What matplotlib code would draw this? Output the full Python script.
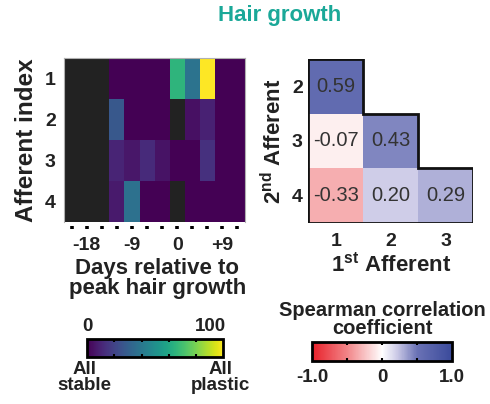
import numpy as np
import matplotlib
matplotlib.use('Agg')
import matplotlib.pyplot as plt
from matplotlib.colors import LinearSegmentedColormap, Normalize
from matplotlib import cm
from matplotlib.patches import Polygon

plt.rcParams['font.family'] = ['Liberation Sans', 'DejaVu Sans']
plt.rcParams['mathtext.fontset'] = 'custom'
plt.rcParams['mathtext.rm'] = 'Liberation Sans'
plt.rcParams['mathtext.bf'] = 'Liberation Sans:bold'

# percent of plastic cells, per afferent, per 3-day bin
days = [-21, -18, -15, -12, -9, -6, -3, 0, 3, 6, 9, 12]
day_labels = {-18: '-18', -9: '-9', 0: '0', 9: '+9'}
afferents = [1, 2, 3, 4]
nan = np.nan
aff1 = [nan, nan, nan, 0, 0, 0, 0, 65, 38, 100, 0, 0]
aff2 = [nan, nan, nan, 27, 0, 0, 0, nan, 4, 9, 0, 0]
aff3 = [nan, nan, nan, 10, 6, 12, 5, 0, 0, 14, 0, 0]
aff4 = [nan, nan, nan, 7, 37, 0, 0, nan, 0, 0, 0, 0]

# spearman correlations (1st afferent, 2nd afferent, rho)
first_aff = [1, 1, 2, 1, 2, 3]
second_aff = [2, 3, 3, 4, 4, 4]
rho = [0.59, -0.07, 0.43, -0.33, 0.20, 0.29]

teal = '#1aa898'
dark = '#222222'

fig = plt.figure(figsize=(4.9, 4.04), dpi=100)
fig.text(0.571, 0.962, 'Hair growth', color=teal, fontsize=16,
         fontweight='bold', ha='center', va='center')

# ---- left heatmap
ax = fig.add_axes([0.131, 0.450, 0.369, 0.406])
# move spine first, set_position resets the ticks
ax.spines['bottom'].set_position(('outward', 3))
ax.spines['bottom'].set_visible(False)
vir = plt.get_cmap('viridis').copy()
vir.set_bad('#222222')
z = np.ma.masked_invalid(np.array([aff1, aff2, aff3, aff4]))
step = days[1] - days[0]
xe = np.append(np.array(days) - step / 2, days[-1] + step / 2)
ye = np.arange(len(afferents) + 1) + 0.5
ax.pcolormesh(xe, ye, z, cmap=vir, vmin=0, vmax=100)
ax.set_xlim(xe[0], xe[-1])
ax.set_ylim(ye[-1], ye[0])
ax.set_yticks(afferents)
ax.set_yticklabels([str(a) for a in afferents], fontsize=14, fontweight='bold', color=dark)
ax.set_xticks(days)
ax.set_xticklabels([day_labels.get(d, '') for d in days], fontsize=14,
                   fontweight='bold', color=dark)
ax.tick_params(axis='y', length=0, pad=6)
ax.tick_params(axis='x', length=2.5, width=2.6, color='black', pad=5)
for s in ['top', 'left', 'right']:
    ax.spines[s].set_color('#b0b0b0')
    ax.spines[s].set_linewidth(0.8)
ax.set_ylabel('Afferent index', fontsize=17.5, fontweight='bold', color=dark, labelpad=5)
ax.set_xlabel('Days relative to\npeak hair growth', fontsize=16, fontweight='bold',
              color=dark, linespacing=0.95)
ax.xaxis.set_label_coords(0.514, -0.22)

# ---- right correlation matrix
rb = LinearSegmentedColormap.from_list('rb', [
    (0.0, '#e8202a'), (0.25, '#f28588'), (0.5, '#ffffff'),
    (0.6, '#cfcde8'), (0.75, '#6a72b5'), (1.0, '#3a4a9b')])
norm = Normalize(-1, 1)
ax2 = fig.add_axes([0.629, 0.448, 0.337, 0.406])
n = len(afferents)
for f, s, r in zip(first_aff, second_aff, rho):
    ax2.add_patch(plt.Rectangle((f - 0.5, s - 0.5), 1, 1, facecolor=rb(norm(r)),
                                edgecolor='none'))
    ax2.text(f, s, '%.2f' % r, ha='center', va='center', fontsize=14.5, color='#333333')
outline = [(0.5, 1.5)]
for k in range(1, n):
    outline += [(k + 0.5, k + 0.5), (k + 0.5, k + 1.5)]
outline += [(0.5, n + 0.5)]
ax2.add_patch(Polygon(outline, closed=True, fill=False, edgecolor='#111111', lw=2))
ax2.set_xlim(0.5, n - 0.5)
ax2.set_ylim(n + 0.5, 1.5)
ax2.set_xticks(afferents[:-1])
ax2.set_xticklabels([str(a) for a in afferents[:-1]], fontsize=14, fontweight='bold', color=dark)
ax2.set_yticks(afferents[1:])
ax2.set_yticklabels([str(a) for a in afferents[1:]], fontsize=14, fontweight='bold', color=dark)
ax2.tick_params(axis='x', length=0, pad=7)
ax2.tick_params(axis='y', length=0, pad=4)
for s in ax2.spines.values():
    s.set_visible(False)
ax2.set_xlabel(r'1$^{\mathbf{st}}$ Afferent', fontsize=16, fontweight='bold', color=dark, labelpad=2)
ax2.set_ylabel(r'2$^{\mathbf{nd}}$ Afferent', fontsize=16, fontweight='bold', color=dark, labelpad=4)

# ---- colorbars
cax = fig.add_axes([0.178, 0.116, 0.278, 0.045])
cb = fig.colorbar(cm.ScalarMappable(norm=Normalize(0, 100), cmap='viridis'),
                  cax=cax, orientation='horizontal')
cb.outline.set_linewidth(2)
cb.set_ticks([20, 40, 60, 80])
cax.tick_params(axis='x', direction='in', length=2, width=1.5, top=True,
                labelbottom=False)
cax.text(0, 1.2, '0', transform=cax.transAxes, ha='center', va='bottom',
         fontsize=13.5, fontweight='bold', color=dark)
cax.text(1.02, 1.2, '100', transform=cax.transAxes, ha='right', va='bottom',
         fontsize=13.5, fontweight='bold', color=dark)
cax.text(-0.02, -0.2, 'All\nstable', transform=cax.transAxes, ha='center', va='top',
         fontsize=13.5, fontweight='bold', color=dark, linespacing=0.95)
cax.text(0.98, -0.2, 'All\nplastic', transform=cax.transAxes, ha='center', va='top',
         fontsize=13.5, fontweight='bold', color=dark, linespacing=0.95)

cax2 = fig.add_axes([0.637, 0.106, 0.286, 0.047])
cb2 = fig.colorbar(cm.ScalarMappable(norm=norm, cmap=rb), cax=cax2, orientation='horizontal')
cb2.outline.set_linewidth(2)
cb2.set_ticks([-0.5, 0, 0.5])
cax2.tick_params(axis='x', direction='in', length=2, width=1.5, top=True,
                 labelbottom=False)
for v, lab in [(-1, '-1.0'), (0, '0'), (1, '1.0')]:
    cax2.text(norm(v), -0.4, lab, transform=cax2.transAxes, ha='center', va='top',
              fontsize=13.5, fontweight='bold', color=dark)
cax2.text(0.5, 1.2, 'Spearman correlation\ncoefficient', transform=cax2.transAxes,
          ha='center', va='bottom', fontsize=14.5, fontweight='bold', color=dark,
          linespacing=0.95)

fig.savefig('out.png', dpi=100)
